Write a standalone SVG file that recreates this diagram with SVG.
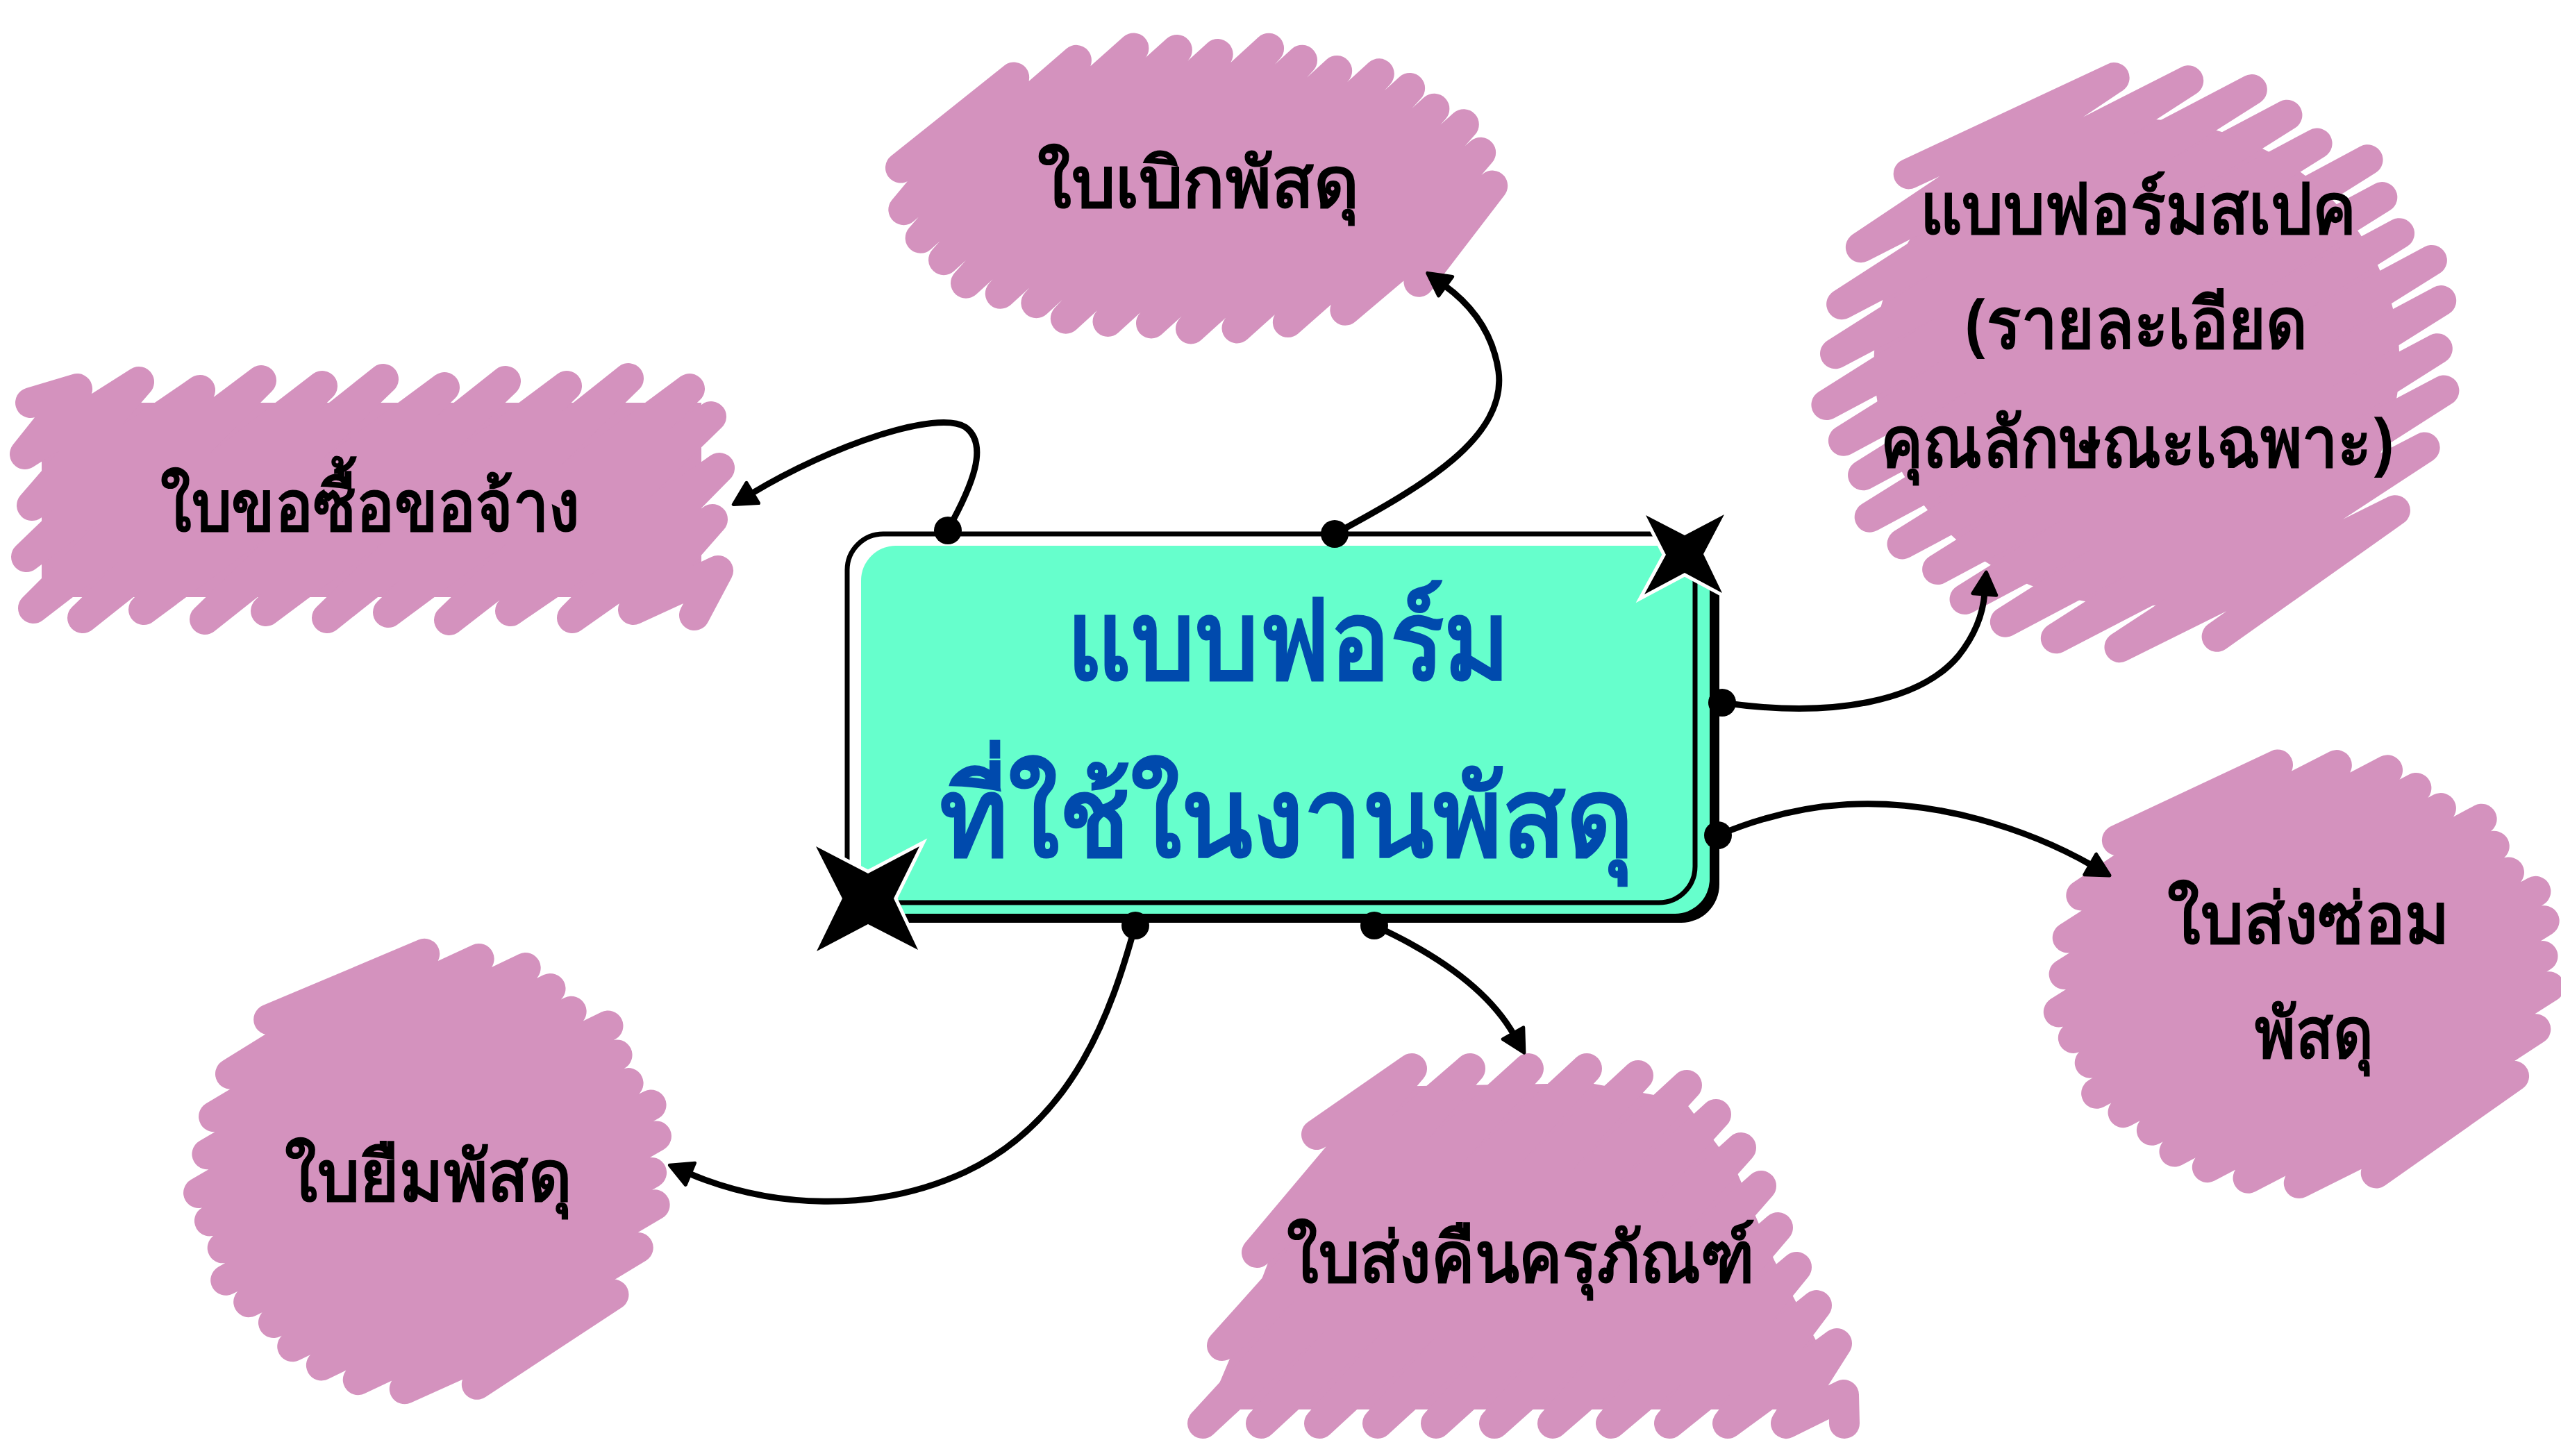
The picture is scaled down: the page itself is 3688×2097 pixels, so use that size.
<svg xmlns="http://www.w3.org/2000/svg" width="3688" height="2097" viewBox="0 0 3688 2097">
<style>
.pk{fill:#D492BE}
.scr{fill:none;stroke:#D492BE;stroke-width:44;stroke-linejoin:round;stroke-linecap:round}
.nsc{vector-effect:non-scaling-stroke}
.lbl{font-family:"Noto Sans","DejaVu Sans",sans-serif;font-weight:700;font-size:100px;fill:#000}
.ctr{font-family:"Noto Sans","DejaVu Sans",sans-serif;font-weight:700;font-size:160px;fill:#004AAD}
.con{fill:none;stroke:#000;stroke-width:9;stroke-linecap:round}
.dot{fill:#000}
.star{fill:#000;stroke:#fff;stroke-width:10;paint-order:stroke;stroke-linejoin:miter}
</style>
<defs>
<path id="zig" class="scr nsc" d="M-.28-.96L.47-.891-.55-.823.67-.754-.71-.686.83-.617-.82-.549.88-.48-.94-.411.91-.343-.96-.274 1.02-.206-.97-.137.99-.069-1.03 0 .97.069-.99.137 1.01.206-.94.274.96.343-.92.411.86.48-.85.549.8.617-.74.686.64.754-.58.823.44.891-.29.96"/>
<circle id="core" r="0.86"/>
<marker id="ah" markerUnits="userSpaceOnUse" markerWidth="60" markerHeight="60" viewBox="-40 -30 50 60" refX="-28" refY="0" orient="auto">
<path d="M2,0 L-30,-17 L-30,17 Z" fill="#000" stroke="#000" stroke-width="5" stroke-linejoin="round"/>
</marker>
</defs>
<rect width="3688" height="2097" fill="#fff"/>

<g id="node-bikpasadu">
<g transform="translate(1722,272) scale(430,200) rotate(-65)"><use href="#core" class="pk"/><use href="#zig"/></g>
<text class="lbl" x="1494" y="298" textLength="463" lengthAdjust="spacingAndGlyphs">ใบเบิกพัสดุ</text>
</g>

<g id="node-khosue">
<rect class="pk" x="60" y="580" width="950" height="280"/>
<path class="scr" d="M44,580L111,560 36,654 200,550 46,728 288,562 38,802 376,548 48,876 464,556 119,890 552,546 207,878 640,558 295,892 728,549 383,880 816,556 471,890 905,545 559,882 993,560 647,893 1024,600 735,880 1036,674 824,890 1026,748 912,878 1034,822 1000,886"/>
<text class="lbl" x="231" y="764" textLength="604" lengthAdjust="spacingAndGlyphs">ใบขอซื้อขอจ้าง</text>
</g>

<g id="node-spec">
<g transform="translate(3077,522) scale(440,408) rotate(-32)"><use href="#core" class="pk"/><use href="#zig"/></g>
<text class="lbl" x="2765" y="336" textLength="628" lengthAdjust="spacingAndGlyphs">แบบฟอร์มสเปค</text>
<text class="lbl" x="2830" y="501" textLength="493" lengthAdjust="spacingAndGlyphs">(รายละเอียด</text>
<text class="lbl" x="2708" y="672" textLength="739" lengthAdjust="spacingAndGlyphs">คุณลักษณะเฉพาะ)</text>
</g>

<g id="node-songsom">
<g transform="translate(3318,1402) scale(350,300) rotate(-34)"><use href="#core" class="pk"/><use href="#zig"/></g>
<text class="lbl" x="3121" y="1358" textLength="407" lengthAdjust="spacingAndGlyphs">ใบส่งซ่อม</text>
<text class="lbl" x="3247" y="1523" textLength="171" lengthAdjust="spacingAndGlyphs">พัสดุ</text>
</g>

<g id="node-songkhuen">
<polygon class="pk" points="1985,1565 2290,1560 2425,1585 2500,1685 2555,1815 2620,1940 2635,2030 1740,2030 1795,1900 1835,1795 1895,1690 1930,1600"/>
<path class="scr" d="M1896,1634L2033,1539 1810,1804 2117,1539 1760,1938 2201,1539 1732,2050 2285,1539 1816,2050 2359,1549 1900,2050 2429,1563 1984,2050 2471,1605 2068,2050 2507,1653 2152,2050 2536,1708 2236,2050 2560,1768 2320,2050 2587,1825 2404,2050 2616,1880 2488,2050 2645,1935 2572,2050 2655,2009 2656,2050"/>
<text class="lbl" x="1853" y="1846" textLength="674" lengthAdjust="spacingAndGlyphs">ใบส่งคืนครุภัณฑ์</text>
</g>

<g id="node-yuem">
<g transform="translate(618,1688) scale(325,312) rotate(-29)"><use href="#core" class="pk"/><use href="#zig"/></g>
<text class="lbl" x="410" y="1729" textLength="414" lengthAdjust="spacingAndGlyphs">ใบยืมพัสดุ</text>
</g>

<g id="node-center">
<rect x="1250" y="796" width="1226" height="533" rx="55" fill="#000"/>
<rect x="1240" y="786" width="1222" height="530" rx="50" fill="#66FFCC"/>
<rect x="1220" y="769" width="1221" height="531" rx="52" fill="none" stroke="#000" stroke-width="7"/>
<text class="ctr" x="1536" y="978" textLength="638" lengthAdjust="spacingAndGlyphs">แบบฟอร์ม</text>
<text class="ctr" x="1353" y="1233" textLength="1000" lengthAdjust="spacingAndGlyphs">ที่ใช้ในงานพัสดุ</text>
</g>

<g id="connectors">
<path class="con" marker-end="url(#ah)" d="M1365,763 C1400,700 1425,640 1390,615 C1350,590 1200,640 1082,711"/>
<path class="con" marker-end="url(#ah)" d="M1922,769 C2050,700 2170,630 2158,535 C2150,480 2120,440 2080,411"/>
<path class="con" marker-end="url(#ah)" d="M2480,1012 C2640,1035 2765,1010 2820,945 C2848,910 2856,880 2858,854"/>
<path class="con" marker-end="url(#ah)" d="M2474,1203 C2600,1150 2720,1145 2850,1180 C2920,1199 2970,1222 3012,1246"/>
<path class="con" marker-end="url(#ah)" d="M1979,1333 C2060,1370 2140,1420 2180,1490"/>
<path class="con" marker-end="url(#ah)" d="M1635,1332 C1600,1460 1545,1615 1390,1688 C1260,1748 1110,1740 992,1690"/>
<circle class="dot" cx="1365" cy="764" r="20"/>
<circle class="dot" cx="1922" cy="769" r="20"/>
<circle class="dot" cx="2480" cy="1012" r="20"/>
<circle class="dot" cx="2474" cy="1203" r="20"/>
<circle class="dot" cx="1979" cy="1333" r="20"/>
<circle class="dot" cx="1635" cy="1333" r="20"/>
</g>

<g id="stars">
<polygon class="star" points="2370,742 2426,771 2483,741 2453,798 2480,854 2426,825 2368,856 2399,799"/>
<polygon class="star" points="1175,1219 1250,1258 1324,1219 1287,1294 1322,1368 1250,1331 1176,1370 1213,1294"/>
</g>
</svg>
